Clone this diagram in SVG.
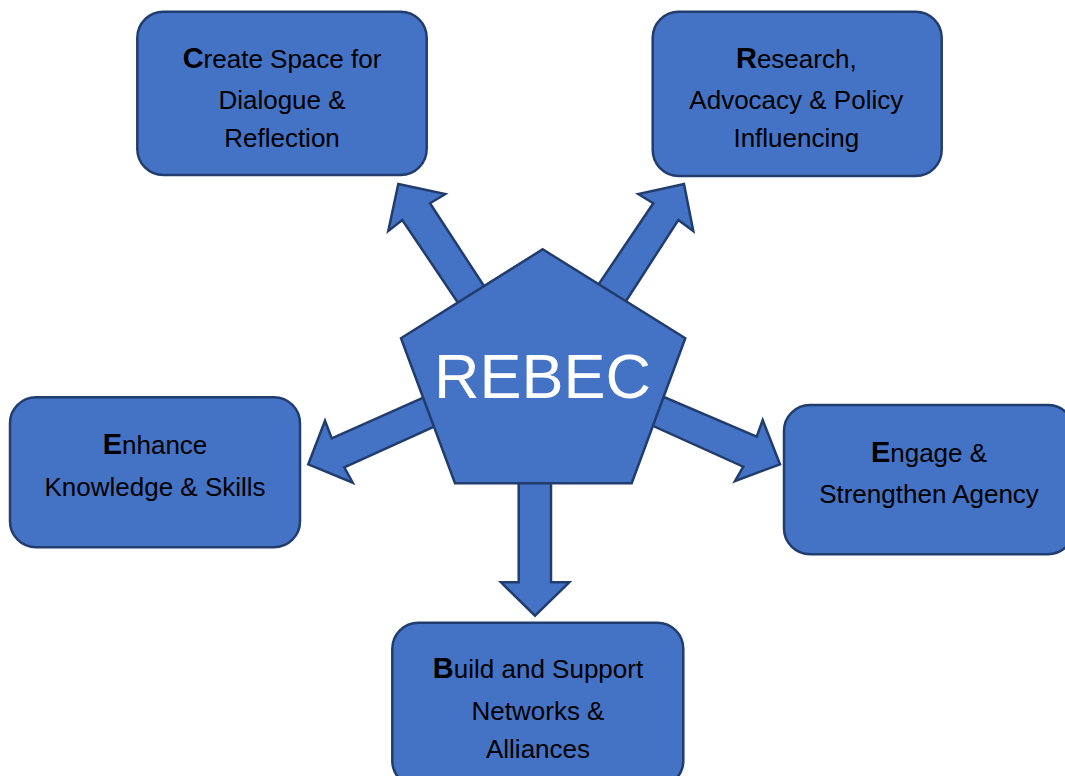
<svg xmlns="http://www.w3.org/2000/svg" width="1065" height="776" viewBox="0 0 1065 776">
  <style>
    .shape { fill: #4472C4; stroke: #213D6E; stroke-width: 2.5; stroke-linejoin: miter; }
    .box { fill: #4472C4; stroke: #213D6E; stroke-width: 2.5; }
    .label { font-family: "Liberation Sans", Arial, sans-serif; font-size: 26px; fill: #000; text-anchor: middle; }
    .initial { font-weight: bold; font-size: 29px; }
    .hub { font-family: "Liberation Sans", Arial, sans-serif; font-size: 63px; fill: #fff; text-anchor: middle; }
  </style>
  <rect width="1065" height="776" fill="#fff"/>

  <!-- block arrows radiating from the hub -->
  <g id="connectors">
    <polygon class="shape" points="398.3,184 445.3,194 430,203.3 499.3,309.5 473.8,326.2 402.3,220 388.3,231"/>
    <polygon class="shape" points="684,184 693.3,231 678.3,220 611.2,324 583.1,307.3 653.3,203.3 638.3,194"/>
    <polygon class="shape" points="308.3,464.3 325,420.7 331.7,438.3 446.9,387.1 459,415.4 344.3,467.3 352.7,482.7"/>
    <polygon class="shape" points="780,464.3 735,481 743.3,466.7 628,414.6 637,385.5 756.7,436.7 762.7,420"/>
    <polygon class="shape" points="518.7,460 551,460 551,582.3 569.3,582.3 535,615.7 501,582.3 518.7,582.3"/>
  </g>

  <g id="hub">
    <polygon class="shape" points="542.7,249.3 685.3,338.3 631.7,483.3 455,483.3 401,338.3"/>
    <text class="hub" x="542.5" y="397.5">REBEC</text>
  </g>

  <g id="create-space">
    <rect class="box" x="137.3" y="11.7" width="289.4" height="163.3" rx="26"/>
    <text class="label" x="282" y="67.7"><tspan class="initial">C</tspan>reate Space for</text>
    <text class="label" x="282" y="108.5">Dialogue &amp;</text>
    <text class="label" x="282" y="146.7">Reflection</text>
  </g>

  <g id="research">
    <rect class="box" x="652.7" y="11.7" width="289" height="164.3" rx="26"/>
    <text class="label" x="796.3" y="67.7"><tspan class="initial">R</tspan>esearch,</text>
    <text class="label" x="796.3" y="108.5">Advocacy &amp; Policy</text>
    <text class="label" x="796.3" y="146.7">Influencing</text>
  </g>

  <g id="enhance">
    <rect class="box" x="10" y="397.3" width="290" height="150" rx="26"/>
    <text class="label" x="155" y="454"><tspan class="initial">E</tspan>nhance</text>
    <text class="label" x="155" y="496">Knowledge &amp; Skills</text>
  </g>

  <g id="engage">
    <rect class="box" x="784" y="405" width="290" height="149.3" rx="26"/>
    <text class="label" x="929" y="461.7"><tspan class="initial">E</tspan>ngage &amp;</text>
    <text class="label" x="929" y="503.3">Strengthen Agency</text>
  </g>

  <g id="build">
    <rect class="box" x="392.3" y="622.7" width="291" height="164" rx="26"/>
    <text class="label" x="538" y="678.3"><tspan class="initial">B</tspan>uild and Support</text>
    <text class="label" x="538" y="720">Networks &amp;</text>
    <text class="label" x="538" y="757.7">Alliances</text>
  </g>
</svg>
